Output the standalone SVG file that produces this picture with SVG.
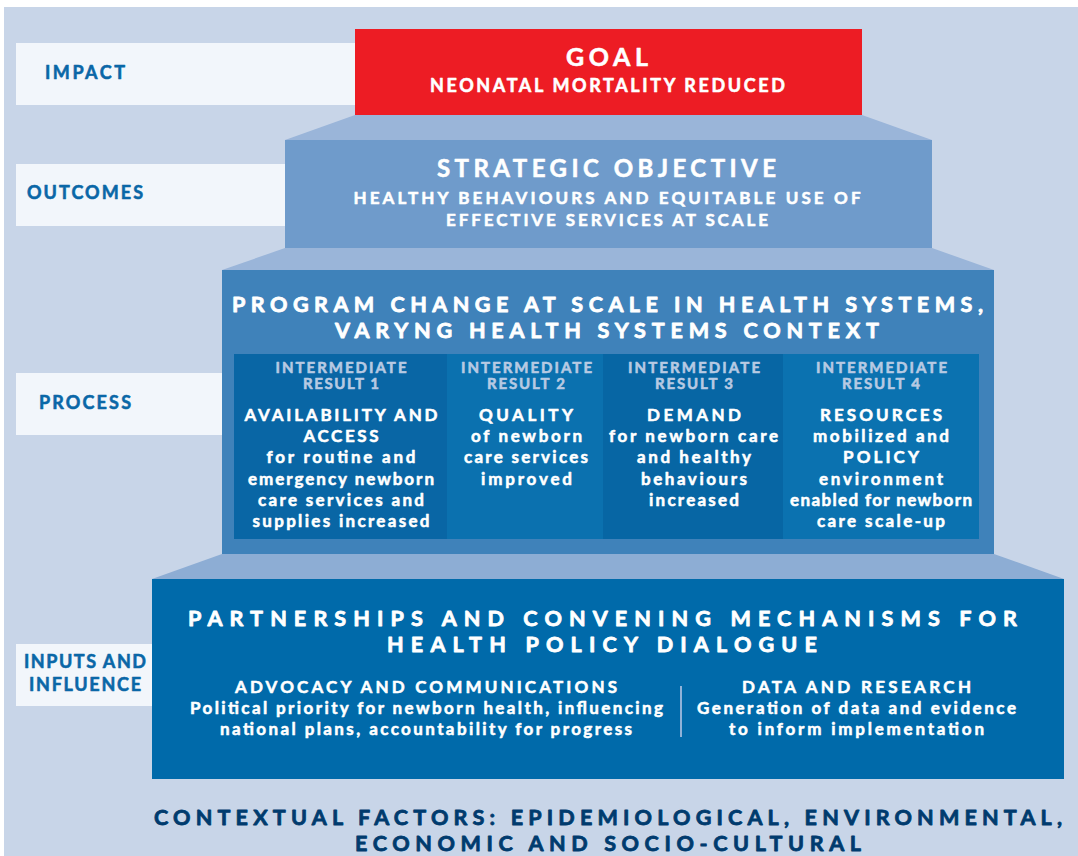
<svg xmlns="http://www.w3.org/2000/svg" width="1078" height="856" viewBox="0 0 1078 856">
<style>
text{font-family:Lato,"Liberation Sans",Arial,sans-serif;font-weight:700;stroke-width:0.55px;stroke-linejoin:round}
.w{fill:#FFFFFF;stroke:#FFFFFF;text-anchor:middle}
.hd{fill:#B7CAE3;stroke:#B7CAE3;text-anchor:middle;font-size:15px}
.lab{fill:#0A67A7;stroke:#0A67A7;font-size:18px}
.lbox{fill:#F2F6FB}
.ctx{fill:#003B6E;stroke:#003B6E;text-anchor:middle;font-size:21.6px;stroke-width:0.8px}
.big{font-size:21.6px;stroke-width:0.8px}
.b17{font-size:17px}
</style>
<rect x="0" y="0" width="1078" height="856" fill="#FFFFFF"/>
<rect x="4" y="7" width="1074" height="849" fill="#C8D5E8"/>

<g id="label-impact">
<rect class="lbox" x="16" y="43" width="345" height="62"/>
<text class="lab" x="45" y="79" textLength="80">IMPACT</text>
</g>
<g id="label-outcomes">
<rect class="lbox" x="16" y="164" width="275" height="62"/>
<text class="lab" x="27" y="199" font-size="17" textLength="116">OUTCOMES</text>
</g>
<g id="label-process">
<rect class="lbox" x="16" y="373" width="210" height="62"/>
<text class="lab" x="39" y="409" textLength="92">PROCESS</text>
</g>
<g id="label-inputs">
<rect class="lbox" x="16" y="644" width="140" height="62"/>
<text class="lab" x="85" y="668" text-anchor="middle" textLength="122">INPUTS AND</text>
<text class="lab" x="85" y="691" text-anchor="middle" textLength="112">INFLUENCE</text>
</g>

<g id="connectors">
<polygon points="355,115 862,115 932,140 285,140" fill="#9AB5D9"/>
<polygon points="285,248 932,248 994,270 222,270" fill="#9AB5D9"/>
<polygon points="222,554 994,554 1064,579 152,579" fill="#8DADD4"/>
</g>

<g id="goal">
<rect x="355" y="29" width="507" height="86" fill="#ED1C24"/>
<text class="w" x="607" y="66" font-size="25" textLength="82" stroke-width="0.8">GOAL</text>
<text class="w" x="607.5" y="92" font-size="18" textLength="355">NEONATAL MORTALITY REDUCED</text>
</g>

<g id="strategic-objective">
<rect x="285" y="140" width="647" height="108" fill="#6F9BCB"/>
<text class="w" x="606.5" y="177" font-size="24" textLength="339" stroke-width="0.8">STRATEGIC OBJECTIVE</text>
<text class="w" x="607" y="204" font-size="17" textLength="507">HEALTHY BEHAVIOURS AND EQUITABLE USE OF</text>
<text class="w" x="607" y="226" font-size="17" textLength="322">EFFECTIVE SERVICES AT SCALE</text>
</g>

<g id="process">
<rect x="222" y="270" width="772" height="284" fill="#3F82BA"/>
<text class="w big" x="607.5" y="312" textLength="751">PROGRAM CHANGE AT SCALE IN HEALTH SYSTEMS,</text>
<text class="w big" x="607" y="338" textLength="544">VARYNG HEALTH SYSTEMS CONTEXT</text>
</g>

<g id="ir1">
<rect x="234" y="354" width="213" height="185" fill="#0966A5"/>
<text class="hd" x="341" y="373" textLength="131">INTERMEDIATE</text>
<text class="hd" x="341" y="389" textLength="76">RESULT 1</text>
<text class="w b17" x="341" y="421" textLength="193">AVAILABILITY AND</text>
<text class="w b17" x="341" y="442" textLength="75">ACCESS</text>
<text class="w b17" x="341" y="463" textLength="149">for routine and</text>
<text class="w b17" x="341" y="485" textLength="186">emergency newborn</text>
<text class="w b17" x="341" y="506" textLength="166">care services and</text>
<text class="w b17" x="341" y="527" textLength="177">supplies increased</text>
</g>

<g id="ir2">
<rect x="447" y="354" width="156" height="185" fill="#0B71AF"/>
<text class="hd" x="526.5" y="373" textLength="131">INTERMEDIATE</text>
<text class="hd" x="526" y="389" textLength="78">RESULT 2</text>
<text class="w b17" x="526" y="421" textLength="94">QUALITY</text>
<text class="w b17" x="526.5" y="442" textLength="111">of newborn</text>
<text class="w b17" x="526" y="463" textLength="124">care services</text>
<text class="w b17" x="526.5" y="485" textLength="91">improved</text>
</g>

<g id="ir3">
<rect x="603" y="354" width="180" height="185" fill="#0766A4"/>
<text class="hd" x="694" y="373" textLength="132">INTERMEDIATE</text>
<text class="hd" x="694" y="389" textLength="78">RESULT 3</text>
<text class="w b17" x="694" y="421" textLength="94">DEMAND</text>
<text class="w b17" x="693.5" y="442" textLength="169">for newborn care</text>
<text class="w b17" x="694" y="463" textLength="114">and healthy</text>
<text class="w b17" x="694" y="485" textLength="106">behaviours</text>
<text class="w b17" x="694" y="506" textLength="90">increased</text>
</g>

<g id="ir4">
<rect x="783" y="354" width="196" height="185" fill="#0B72B0"/>
<text class="hd" x="881.5" y="373" textLength="131">INTERMEDIATE</text>
<text class="hd" x="881" y="389" textLength="78">RESULT 4</text>
<text class="w b17" x="881" y="421" textLength="122">RESOURCES</text>
<text class="w b17" x="881" y="442" textLength="136">mobilized and</text>
<text class="w b17" x="881" y="463" textLength="76">POLICY</text>
<text class="w b17" x="881" y="485" textLength="124">environment</text>
<text class="w b17" x="881" y="506" textLength="182">enabled for newborn</text>
<text class="w b17" x="881" y="527" textLength="128">care scale-up</text>
</g>

<g id="inputs">
<rect x="152" y="579" width="912" height="200" fill="#006AAA"/>
<text class="w big" x="602.5" y="626" textLength="829">PARTNERSHIPS AND CONVENING MECHANISMS FOR</text>
<text class="w big" x="602" y="652" textLength="430">HEALTH POLICY DIALOGUE</text>
<text class="w" x="426" y="693" font-size="17" textLength="382">ADVOCACY AND COMMUNICATIONS</text>
<text class="w" x="426.5" y="714" font-size="17" textLength="473">Political priority for newborn health, influencing</text>
<text class="w" x="426" y="735" font-size="17" textLength="412">national plans, accountability for progress</text>
<line x1="681" y1="686" x2="681" y2="737" stroke="#8FB2D8" stroke-width="2"/>
<text class="w" x="856.5" y="693" font-size="17" textLength="229">DATA AND RESEARCH</text>
<text class="w" x="856.5" y="714" font-size="17" textLength="319">Generation of data and evidence</text>
<text class="w" x="856.5" y="735" font-size="17" textLength="255">to inform implementation</text>
</g>

<g id="context">
<text class="ctx" x="608" y="825" textLength="908">CONTEXTUAL FACTORS: EPIDEMIOLOGICAL, ENVIRONMENTAL,</text>
<text class="ctx" x="608" y="851" textLength="506">ECONOMIC AND SOCIO-CULTURAL</text>
</g>
</svg>
